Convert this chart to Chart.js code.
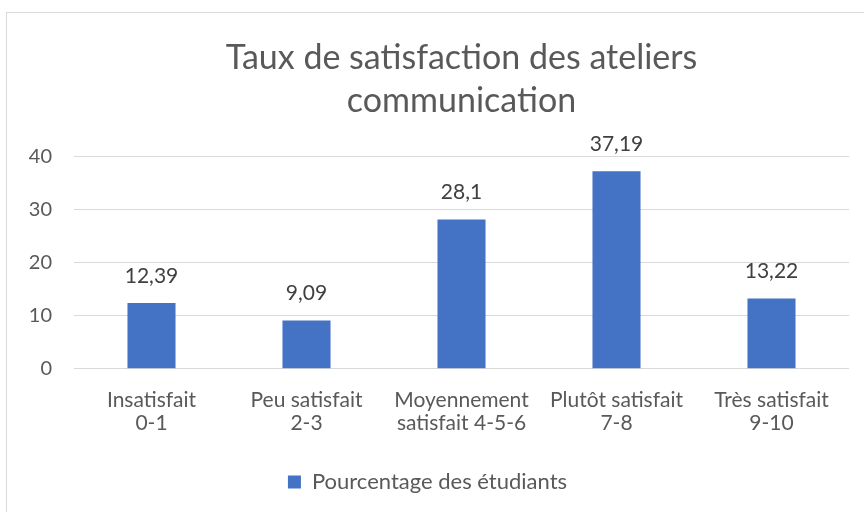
<!DOCTYPE html>
<html>
<head>
<meta charset="utf-8">
<script src="https://cdn.jsdelivr.net/npm/chart.js@4/dist/chart.umd.min.js"></script>
<style>
  html, body { margin: 0; padding: 0; background: #fff; }
  #wrap { position: relative; width: 864px; height: 512px; overflow: hidden; }
  #frame { position: absolute; left: 6px; top: 12px; width: 900px; height: 600px; border: 1px solid #d9d9d9; box-sizing: border-box; }
  canvas { position: absolute; left: 0; top: 0; }
</style>
</head>
<body>
<div id="wrap">
  <div id="frame"></div>
  <canvas id="chart" width="864" height="512"></canvas>
</div>
<script>
// Chart data
const categories = [
    ['Insatisfait', '0-1'],
    ['Peu satisfait', '2-3'],
    ['Moyennement', 'satisfait 4-5-6'],
    ['Plutôt satisfait', '7-8'],
    ['Très satisfait', '9-10']
];
const percentages = [12.39, 9.09, 28.1, 37.19, 13.22];
const valueLabels = ['12,39', '9,09', '28,1', '37,19', '13,22'];
const yTicks = [0, 10, 20, 30, 40];

const FONT = 'Lato, "Open Sans", sans-serif';
const GREY = '#595959';

// Draws the value above each bar (no datalabels plugin available offline)
const barValues = {
    id: 'barValues',
    afterDatasetsDraw(chart) {
        const ctx = chart.ctx;
        const meta = chart.getDatasetMeta(0);
        ctx.save();
        ctx.font = '21px ' + FONT;
        ctx.fillStyle = '#404040';
        ctx.textAlign = 'center';
        ctx.textBaseline = 'middle';
        meta.data.forEach((bar, i) => {
            ctx.fillText(valueLabels[i], bar.x, bar.y - 27);
        });
        ctx.restore();
    }
};

const ctx = document.getElementById('chart').getContext('2d');
new Chart(ctx, {
    type: 'bar',
    data: {
        labels: categories,
        datasets: [{
            label: 'Pourcentage des étudiants',
            data: percentages,
            backgroundColor: '#4472C4',
            borderWidth: 0,
            categoryPercentage: 0.31,
            barPercentage: 1
        }]
    },
    options: {
        responsive: false,
        animation: false,
        layout: {
            padding: { left: 6, right: 15, top: 36, bottom: 9 }
        },
        scales: {
            x: {
                grid: { display: false, drawTicks: false },
                border: { display: false },
                ticks: {
                    color: GREY,
                    font: { family: FONT, size: 21, lineHeight: 1.1 },
                    padding: 19.5,
                    maxRotation: 0,
                    autoSkip: false
                }
            },
            y: {
                min: 0,
                max: 40,
                afterBuildTicks: (scale) => {
                    scale.ticks = yTicks.map(v => ({ value: v }));
                },
                afterFit: (scale) => { scale.width = 68; },
                grid: { color: '#d9d9d9', lineWidth: 1, drawTicks: false },
                border: { display: false },
                ticks: {
                    color: GREY,
                    font: { family: FONT, size: 20 },
                    padding: 22
                }
            }
        },
        plugins: {
            title: {
                display: true,
                fullSize: false,
                text: ['Taux de satisfaction des ateliers', 'communication'],
                color: GREY,
                font: { family: FONT, size: 34, weight: 'normal', lineHeight: 1.27 },
                padding: { top: 0, bottom: 34 }
            },
            legend: {
                display: true,
                position: 'bottom',
                labels: {
                    color: GREY,
                    font: { family: FONT, size: 22 },
                    boxWidth: 13,
                    boxHeight: 13,
                    padding: 17
                }
            },
            tooltip: { enabled: false }
        }
    },
    plugins: [barValues]
});
</script>
</body>
</html>
